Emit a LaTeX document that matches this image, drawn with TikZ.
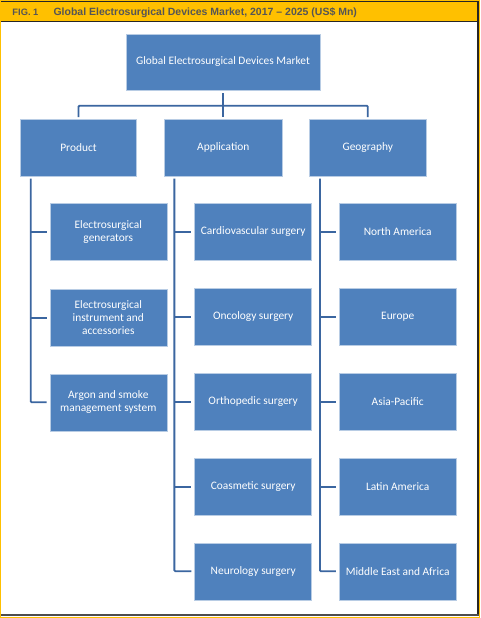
\documentclass[tikz,border=0pt]{standalone}
\usepackage{fontspec}
\setmainfont{Carlito}
\newfontfamily\hdrfont[Ligatures=TeX]{Liberation Sans}
\usetikzlibrary{calc}
\definecolor{boxblue}{HTML}{4F81BD}
\definecolor{boxedge}{HTML}{B8CCE4}
\definecolor{linkblue}{HTML}{3B66A0}
\definecolor{hdryellow}{HTML}{FFC000}
\definecolor{hdrtext}{HTML}{555555}
\definecolor{framedark}{HTML}{262626}
\definecolor{framegray}{HTML}{4D4D4D}
\tikzset{
  box/.style={rectangle, fill=boxblue, draw=boxedge, line width=0.5pt,
    text=white, align=center, inner sep=1pt,
    font=\fontsize{11.4}{12.8}\selectfont,
    minimum width=117pt, minimum height=57pt},
  topbox/.style={box, minimum width=194pt, minimum height=56pt},
  conn/.style={draw=linkblue, line width=1.8pt, rounded corners=1pt},
  hdr/.style={inner sep=0pt, anchor=base west, text=hdrtext,
    font=\hdrfont\bfseries\fontsize{10.5}{12}\selectfont}
}
\begin{document}
\begin{tikzpicture}[x=1pt, y=-1pt]
\useasboundingbox (0,0) rectangle (480,618);
% frame
\fill[white] (0,0) rectangle (480,618);
\fill[hdryellow] (0,0) rectangle (480,22.5);
\draw[framedark, line width=1.3pt] (0,1.6) -- (478,1.6);
\draw[framedark, line width=1.8pt] (0,21.6) -- (478,21.6);
\draw[framedark, line width=2pt] (477.7,1) -- (477.7,616);
\draw[framegray, line width=2.3pt] (1,614.9) -- (478.6,614.9);
\draw[hdryellow, line width=1.2pt] (0.6,0.6) rectangle (479.4,617.4);
% header text
\node[hdr, font=\hdrfont\bfseries\fontsize{9.3}{11}\selectfont] (fig) at (12.3,15.9) {FIG. 1};
\node[hdr] (title) at (53.3,15.9) {Global Electrosurgical Devices Market, 2017 – 2025 (US\$ Mn)};
% nodes
\node[topbox] (top) at (223,62) {Global Electrosurgical Devices Market};
\node[box, minimum width=116.4pt] (prod) at (78.5,147.3) {Product};
\node[box, minimum width=118pt] (app) at (223.3,147.3) {Application};
\node[box, minimum width=116.4pt] (geo) at (367.8,147.3) {Geography};
% product children
\node[box] (p1) at (108.3,231.7) {Electrosurgical\\generators};
\node[box] (p2) at (108.3,317.7) {Electrosurgical\\instrument and\\accessories};
\node[box] (p3) at (108.3,402.3) {Argon and smoke\\management system};
% application children
\node[box] (a1) at (253.2,231.7) {Cardiovascular surgery};
\node[box] (a2) at (253.2,316.7) {Oncology surgery};
\node[box] (a3) at (253.2,401.7) {Orthopedic surgery};
\node[box] (a4) at (253.2,486.7) {Coasmetic surgery};
\node[box] (a5) at (253.2,571.3) {Neurology surgery};
% geography children
\node[box] (g1) at (397.7,231.7) {North America};
\node[box] (g2) at (397.7,316.7) {Europe};
\node[box] (g3) at (397.7,401.7) {Asia-Pacific};
\node[box] (g4) at (397.7,486.7) {Latin America};
\node[box] (g5) at (397.7,571.3) {Middle East and Africa};
% top connectors
\coordinate (bus) at ($(top.south)+(0,15.5)$);
\draw[conn, line width=2.4pt] ([yshift=-3pt]top.south) -- ([yshift=1.5pt]top.south |- app.north);
\draw[conn] ([yshift=1.5pt]prod.north) |- (bus) -| ([yshift=1.5pt]geo.north);
% product trunk
\coordinate (tp) at ([xshift=10.6pt,yshift=-2.5pt]prod.south west);
\draw[conn] (tp) |- ([xshift=-3pt]p3.west);
\draw[conn] (tp |- p1.west) -- ([xshift=-3pt]p1.west);
\draw[conn] (tp |- p2.west) -- ([xshift=-3pt]p2.west);
% application trunk
\coordinate (ta) at ([xshift=10.3pt,yshift=-2.5pt]app.south west);
\draw[conn] (ta) |- ([xshift=-3pt]a5.west);
\foreach \n in {a1,a2,a3,a4}{\draw[conn] (ta |- \n.west) -- ([xshift=-3pt]\n.west);}
% geography trunk
\coordinate (tg) at ([xshift=10.6pt,yshift=-2.5pt]geo.south west);
\draw[conn] (tg) |- ([xshift=-3pt]g5.west);
\foreach \n in {g1,g2,g3,g4}{\draw[conn] (tg |- \n.west) -- ([xshift=-3pt]\n.west);}
\end{tikzpicture}
\end{document}
